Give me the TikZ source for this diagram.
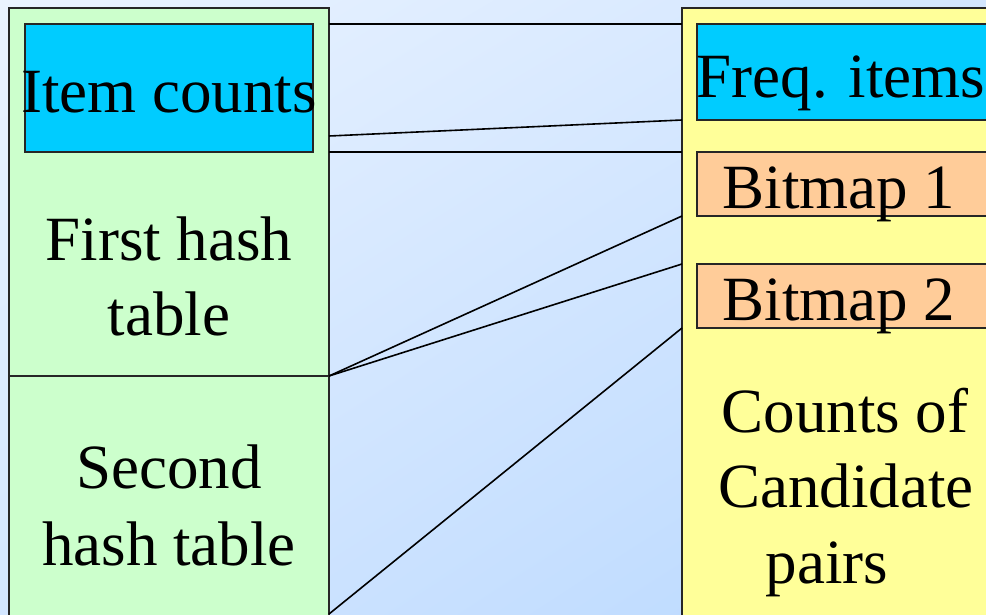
\documentclass[tikz,border=0pt]{standalone}
\usepackage{fontspec}
\setmainfont{Liberation Serif}
\usetikzlibrary{shadings}
\definecolor{bgA}{HTML}{EAF3FF}
\definecolor{bgM}{HTML}{D3E6FF}
\definecolor{bgB}{HTML}{B8D8FF}
\definecolor{mgreen}{HTML}{CCFFCC}
\definecolor{mcyan}{HTML}{00CCFF}
\definecolor{myellow}{HTML}{FFFF99}
\definecolor{morange}{HTML}{FFCC99}
\begin{document}
\begin{tikzpicture}[x=1pt,y=-1pt,
  box/.style={draw=black!85, line width=1.6pt, inner sep=0pt, outer sep=0pt},
  lbl/.style={font=\fontsize{63}{76}\selectfont, anchor=base, inner sep=0pt, outer sep=0pt},
  conn/.style={draw=black, line width=1.6pt}]
\useasboundingbox (0,0) rectangle (986,614);
\clip (0,0) rectangle (986,614);
\shade[upper left=bgA, upper right=bgM, lower left=bgM, lower right=bgB] (0,0) rectangle (986,614);
% left memory (pass 2)
\node[box, fill=mgreen, minimum width=320pt, minimum height=368pt] (ltop) at (169,192) {};
\node[box, fill=mgreen, minimum width=320pt, minimum height=264pt] (lbot) at (169,508) {};
\node[box, fill=mcyan, minimum width=288pt, minimum height=128pt] (ic) at (169,88) {};
% right memory (pass 3)
\node[box, fill=myellow, minimum width=328pt, minimum height=632pt] (rbox) at (846,324) {};
\node[box, fill=mcyan, minimum width=303pt, minimum height=96pt] (freq) at (848.5,72) {};
\node[box, fill=morange, minimum width=303pt, minimum height=64pt] (bm1) at (848.5,184) {};
\node[box, fill=morange, minimum width=303pt, minimum height=64pt] (bm2) at (848.5,296) {};
% labels
\node[lbl] (tic) at (169,112) {Item counts};
\node[lbl] (tfh1) at (169,260) {First hash};
\node[lbl] (tfh2) at (169,335) {table};
\node[lbl] (tsh1) at (169,488) {Second};
\node[lbl] (tsh2) at (169,565) {hash table};
\node[lbl] (tfreq) at (841,97) {Freq. items};
\node[lbl] (tbm1) at (839,208) {Bitmap 1};
\node[lbl] (tbm2) at (839,320) {Bitmap 2};
\node[lbl] (tc1) at (845,432) {Counts of};
\node[lbl] (tc2) at (846,507) {Candidate};
\node[lbl] (tc3) at (827,583) {pairs};
% connectors
\coordinate (icmid) at (329,136);
\coordinate (lbottom) at (329,614);
\draw[conn] (ltop.east |- ic.north) -- (rbox.west |- freq.north);
\draw[conn] (icmid) -- (rbox.west |- freq.south);
\draw[conn] (ltop.east |- ic.south) -- (rbox.west |- bm1.north);
\draw[conn] (ltop.south east) -- (rbox.west |- bm1.south);
\draw[conn] (ltop.south east) -- (rbox.west |- bm2.north);
\draw[conn] (lbottom) -- (rbox.west |- bm2.south);
\end{tikzpicture}
\end{document}
